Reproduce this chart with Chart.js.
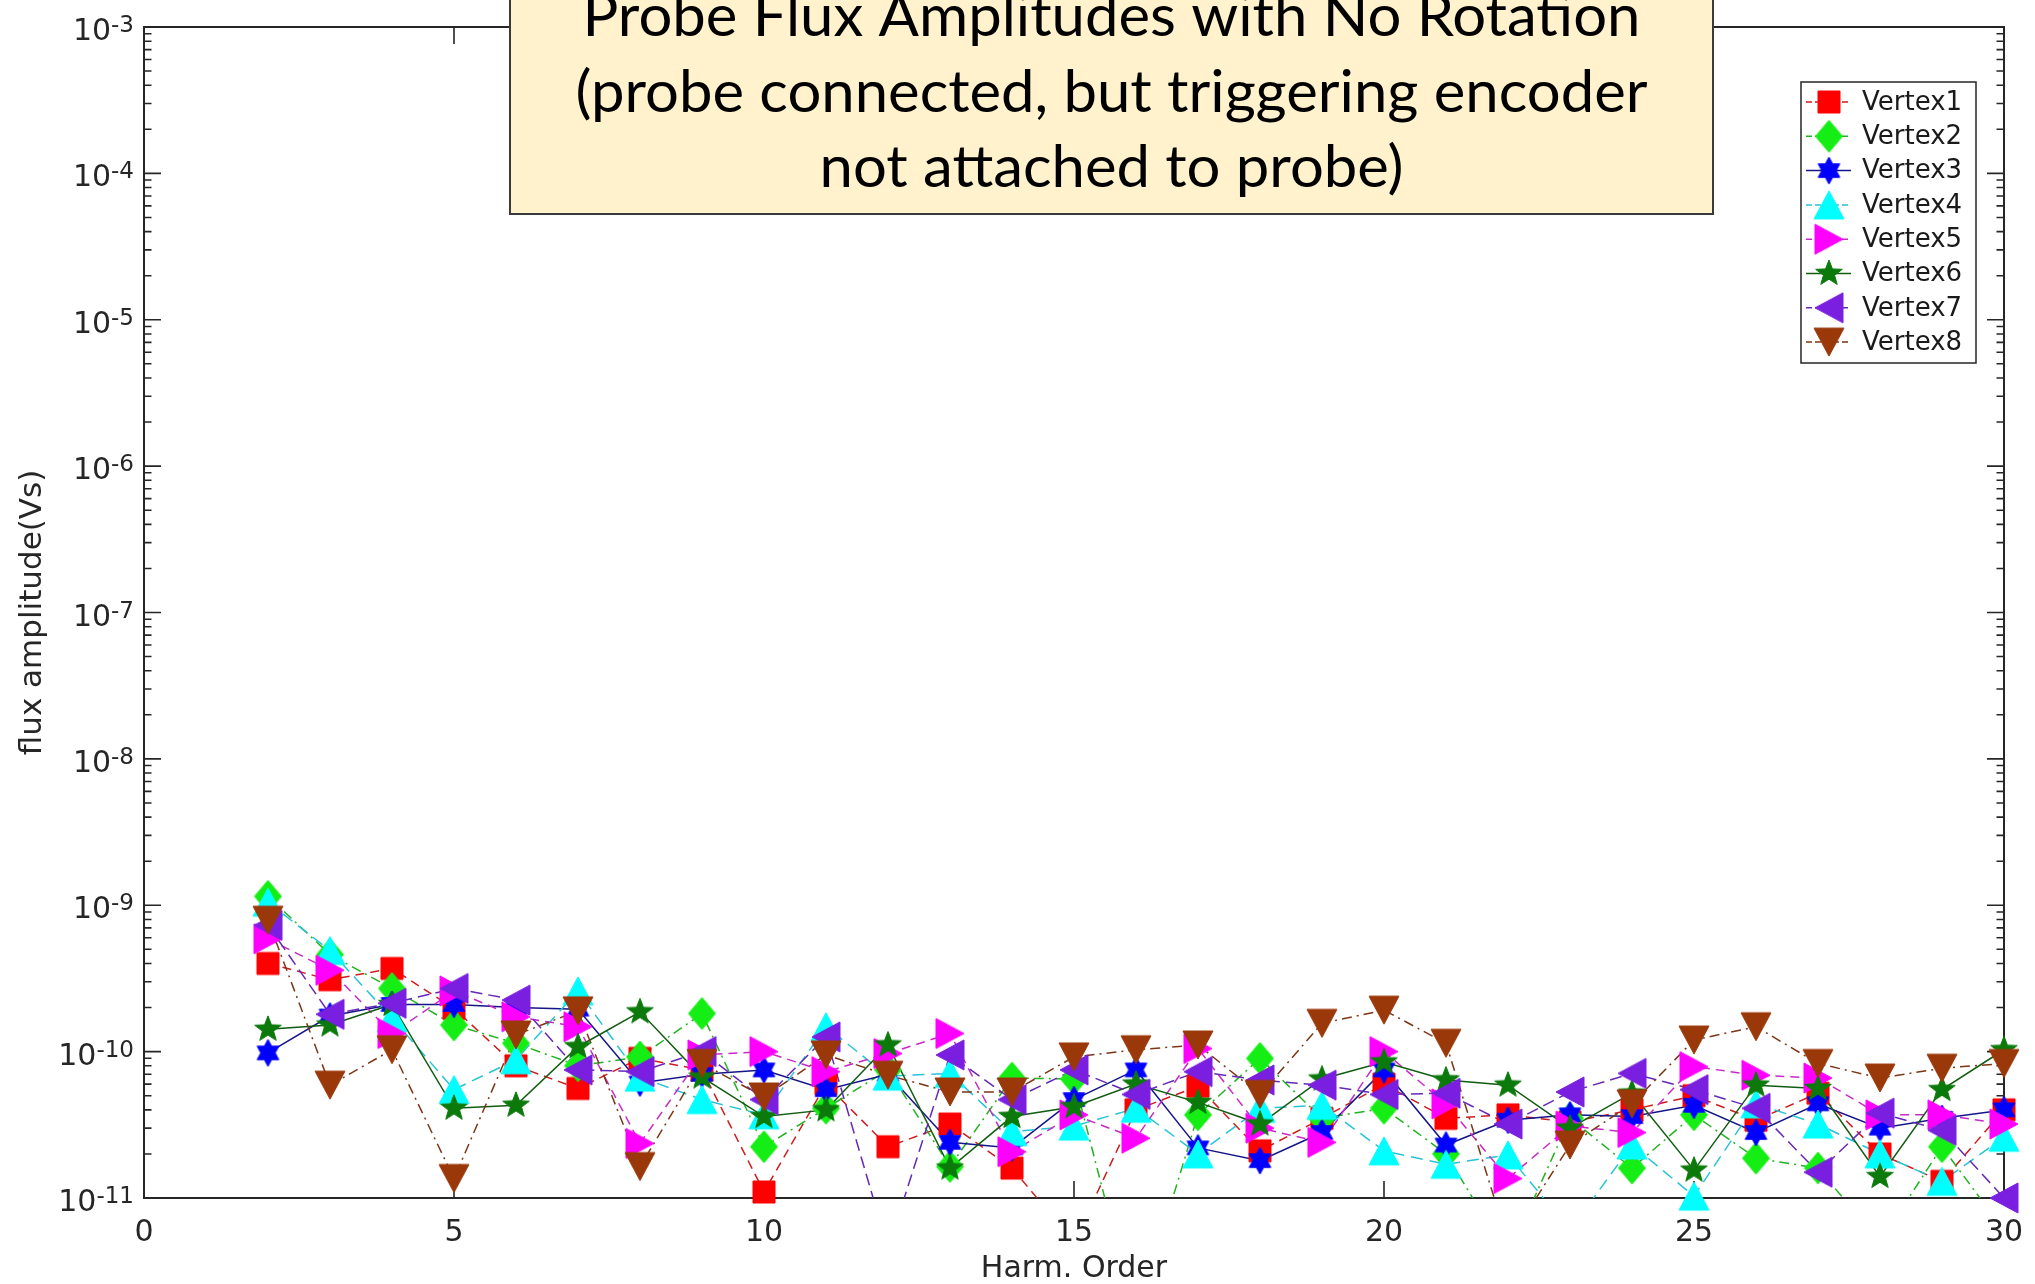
<!DOCTYPE html>
<html>
<head>
<meta charset="utf-8">
<title>Probe Flux Amplitudes with No Rotation</title>
<script src="https://cdn.jsdelivr.net/npm/chart.js@4.4.1/dist/chart.umd.min.js"></script>
<style>
  html, body { margin: 0; padding: 0; background: #ffffff; overflow: hidden; }
  #wrap { position: relative; width: 2035px; height: 1284px; }
</style>
</head>
<body>
<div id="wrap"><canvas id="chart" width="2035" height="1284"></canvas></div>
<script>
// ---- data: flux amplitude (Vs) per harmonic order, one array per probe vertex ----
const harmonics = [2, 3, 4, 5, 6, 7, 8, 9, 10, 11, 12, 13, 14, 15, 16, 17, 18, 19, 20, 21, 22, 23, 24, 25, 26, 27, 28, 29, 30];

const vertex1 = [4.0e-10, 3.1e-10, 3.7e-10, 1.97e-10, 8.0e-11, 5.6e-11, 9.0e-11, 7.5e-11, 1.1e-11, 6.0e-11, 2.24e-11, 3.2e-11, 1.6e-11, 5.0e-12, 4.0e-11, 5.8e-11, 2.1e-11, 3.5e-11, 6.0e-11, 3.5e-11, 3.7e-11, 3.3e-11, 4.0e-11, 5.0e-11, 3.4e-11, 5.2e-11, 2.0e-11, 1.3e-11, 4.0e-11];
const vertex2 = [1.15e-9, 4.6e-10, 2.7e-10, 1.52e-10, 1.14e-10, 8.0e-11, 9.2e-11, 1.82e-10, 2.24e-11, 4.1e-11, 7.5e-11, 1.64e-11, 6.6e-11, 6.5e-11, 1.5e-12, 3.7e-11, 9.0e-11, 3.5e-11, 4.1e-11, 2.0e-11, 4.0e-12, 3.5e-11, 1.6e-11, 3.7e-11, 1.87e-11, 1.6e-11, 5.0e-12, 2.24e-11, 6.0e-12];
const vertex3 = [9.8e-11, 1.75e-10, 2.1e-10, 2.1e-10, 2.0e-10, 1.95e-10, 6.1e-11, 7.0e-11, 7.5e-11, 5.5e-11, 7.0e-11, 2.4e-11, 2.2e-11, 4.7e-11, 7.5e-11, 2.2e-11, 1.8e-11, 2.8e-11, 7.5e-11, 2.3e-11, 3.4e-11, 3.7e-11, 3.6e-11, 4.3e-11, 2.8e-11, 4.4e-11, 3.0e-11, 3.5e-11, 4.0e-11];
const vertex4 = [1.05e-9, 4.9e-10, 1.7e-10, 5.5e-11, 8.8e-11, 2.6e-10, 6.7e-11, 4.7e-11, 3.7e-11, 1.48e-10, 6.8e-11, 7.1e-11, 2.84e-11, 3.1e-11, 4.1e-11, 2.0e-11, 4.1e-11, 4.3e-11, 2.1e-11, 1.7e-11, 1.97e-11, 6.0e-12, 2.3e-11, 1.03e-11, 4.4e-11, 3.2e-11, 2.0e-11, 1.3e-11, 2.6e-11];
const vertex5 = [5.9e-10, 3.6e-10, 1.33e-10, 2.6e-10, 1.73e-10, 1.48e-10, 2.36e-11, 9.5e-11, 1.0e-10, 7.3e-11, 9.7e-11, 1.33e-10, 2.07e-11, 3.7e-11, 2.56e-11, 1.05e-10, 3.0e-11, 2.4e-11, 1.0e-10, 4.4e-11, 1.36e-11, 3.1e-11, 2.8e-11, 7.9e-11, 6.9e-11, 6.6e-11, 3.7e-11, 3.7e-11, 3.2e-11];
const vertex6 = [1.42e-10, 1.52e-10, 2.1e-10, 4.1e-11, 4.3e-11, 1.08e-10, 1.87e-10, 6.7e-11, 3.6e-11, 4.0e-11, 1.11e-10, 1.6e-11, 3.6e-11, 4.2e-11, 6.0e-11, 4.5e-11, 3.2e-11, 6.5e-11, 8.5e-11, 6.4e-11, 5.9e-11, 3.0e-11, 5.2e-11, 1.55e-11, 5.9e-11, 5.6e-11, 1.4e-11, 5.5e-11, 1.03e-10];
const vertex7 = [7.3e-10, 1.8e-10, 2.14e-10, 2.7e-10, 2.25e-10, 7.5e-11, 7.3e-11, 1.0e-10, 4.7e-11, 1.26e-10, 4.5e-12, 9.5e-11, 4.7e-11, 7.5e-11, 5.1e-11, 7.3e-11, 6.4e-11, 5.9e-11, 5.1e-11, 5.2e-11, 3.2e-11, 5.3e-11, 7.1e-11, 5.5e-11, 4.1e-11, 1.5e-11, 3.8e-11, 2.9e-11, 1.0e-11];
const vertex8 = [7.9e-10, 5.9e-11, 1.03e-10, 1.36e-11, 1.3e-10, 1.9e-10, 1.64e-11, 8.3e-11, 4.9e-11, 9.5e-11, 6.9e-11, 5.3e-11, 5.3e-11, 9.2e-11, 1.03e-10, 1.11e-10, 5.1e-11, 1.56e-10, 1.92e-10, 1.14e-10, 5.0e-12, 2.3e-11, 4.4e-11, 1.2e-10, 1.48e-10, 8.3e-11, 6.6e-11, 7.7e-11, 8.3e-11];

const seriesNames = ['Vertex1', 'Vertex2', 'Vertex3', 'Vertex4', 'Vertex5', 'Vertex6', 'Vertex7', 'Vertex8'];
const seriesValues = [vertex1, vertex2, vertex3, vertex4, vertex5, vertex6, vertex7, vertex8];

const yDecades = [-11, -10, -9, -8, -7, -6, -5, -4, -3];
const xTickValues = [0, 5, 10, 15, 20, 25, 30];
const X_MIN = 0, X_MAX = 30;
const Y_MIN = 1e-11, Y_MAX = 1e-3;

const titleLines = [
  'Probe Flux Amplitudes with No Rotation',
  '(probe connected, but triggering encoder',
  'not attached to probe)'
];
const xTitle = 'Harm. Order';
const yTitle = 'flux amplitude(Vs)';

// ---- appearance ----
const styles = [
  { marker: 'square',    fill: '#ff0000', line: '#d01c1c', dash: [9, 6] },
  { marker: 'diamond',   fill: '#14ee14', line: '#1fb41f', dash: [10, 5, 2, 5] },
  { marker: 'hexagram',  fill: '#0000ff', line: '#15158a', dash: [] },
  { marker: 'up',        fill: '#00ffff', line: '#27c4d6', dash: [12, 7] },
  { marker: 'right',     fill: '#ff00ff', line: '#c82ac8', dash: [9, 6] },
  { marker: 'pentagram', fill: '#0b7a0b', line: '#105c10', dash: [] },
  { marker: 'left',      fill: '#7a1fe0', line: '#6528b8', dash: [12, 6] },
  { marker: 'down',      fill: '#9a380a', line: '#7c3616', dash: [10, 5, 2, 5] }
];
const markerSize = {
  square: [22, 22], diamond: [27, 32], hexagram: [25, 27], up: [30, 28],
  right: [28, 30], pentagram: [28, 27], left: [28, 30], down: [30, 28]
};
const AXIS_COLOR = '#262626';
const FONT = '"DejaVu Sans", sans-serif';

function makeMarker(shape, color) {
  const [w, h] = markerSize[shape];
  const pad = 2;
  const cv = document.createElement('canvas');
  cv.width = Math.ceil(w) + pad * 2;
  cv.height = Math.ceil(h) + pad * 2;
  const g = cv.getContext('2d');
  g.translate(cv.width / 2, cv.height / 2);
  g.fillStyle = color;
  g.strokeStyle = color;
  g.lineWidth = 1;
  const hw = w / 2, hh = h / 2;
  g.beginPath();
  const starPath = (n, inner) => {
    for (let k = 0; k < n * 2; k++) {
      const r = (k % 2 === 0) ? 1 : inner;
      const a = -Math.PI / 2 + k * Math.PI / n;
      const px = Math.cos(a) * r * hw, py = Math.sin(a) * r * hh;
      if (k === 0) g.moveTo(px, py); else g.lineTo(px, py);
    }
  };
  switch (shape) {
    case 'square': g.rect(-hw, -hh, w, h); break;
    case 'diamond': g.moveTo(0, -hh); g.lineTo(hw, 0); g.lineTo(0, hh); g.lineTo(-hw, 0); break;
    case 'up': g.moveTo(0, -hh); g.lineTo(hw, hh); g.lineTo(-hw, hh); break;
    case 'down': g.moveTo(-hw, -hh); g.lineTo(hw, -hh); g.lineTo(0, hh); break;
    case 'right': g.moveTo(-hw, -hh); g.lineTo(hw, 0); g.lineTo(-hw, hh); break;
    case 'left': g.moveTo(hw, -hh); g.lineTo(-hw, 0); g.lineTo(hw, hh); break;
    case 'pentagram': starPath(5, 0.42); break;
    case 'hexagram': starPath(6, 0.58); break;
  }
  g.closePath();
  g.fill();
  g.stroke();
  return cv;
}

const markerImages = styles.map(s => makeMarker(s.marker, s.fill));
const toPoints = vals => harmonics.map((h, i) => ({ x: h, y: vals[i] }));

// connecting lines, clipped to the axes box
const lineSets = seriesValues.map((vals, i) => ({
  label: seriesNames[i] + ' (line)',
  data: toPoints(vals),
  showLine: true,
  pointRadius: 0,
  pointHitRadius: 0,
  borderColor: styles[i].line,
  borderWidth: 1.5,
  borderDash: styles[i].dash,
  tension: 0,
  clip: 0,
  order: 100 - i
}));

// markers, drawn unclipped; values below the axis floor are not marked
const pointSets = seriesValues.map((vals, i) => ({
  label: seriesNames[i],
  data: toPoints(vals),
  showLine: false,
  pointStyle: markerImages[i],
  pointRadius: ctx => (ctx.raw ? (ctx.raw.y >= Y_MIN ? 14 : 0) : 14),
  pointBorderWidth: 0,
  backgroundColor: styles[i].fill,
  borderColor: styles[i].fill,
  clip: false,
  order: 20 - i
}));

// axes box, inward ticks and tick labels
const axesFrame = {
  id: 'axesFrame',
  beforeDatasetsDraw(chart) {
    const { ctx, chartArea: a, scales: { x, y } } = chart;
    ctx.save();
    ctx.strokeStyle = AXIS_COLOR;
    ctx.lineWidth = 2;
    ctx.strokeRect(a.left, a.top, a.right - a.left, a.bottom - a.top);

    ctx.lineWidth = 1.6;
    ctx.beginPath();
    const MAJOR = 17, MINOR = 7.5;
    yDecades.forEach(e => {
      const py = y.getPixelForValue(Math.pow(10, e));
      ctx.moveTo(a.left, py); ctx.lineTo(a.left + MAJOR, py);
      ctx.moveTo(a.right, py); ctx.lineTo(a.right - MAJOR, py);
      if (e < yDecades[yDecades.length - 1]) {
        for (let k = 2; k <= 9; k++) {
          const pm = y.getPixelForValue(k * Math.pow(10, e));
          ctx.moveTo(a.left, pm); ctx.lineTo(a.left + MINOR, pm);
          ctx.moveTo(a.right, pm); ctx.lineTo(a.right - MINOR, pm);
        }
      }
    });
    xTickValues.forEach(v => {
      const px = x.getPixelForValue(v);
      ctx.moveTo(px, a.bottom); ctx.lineTo(px, a.bottom - MAJOR);
      ctx.moveTo(px, a.top); ctx.lineTo(px, a.top + MAJOR);
    });
    ctx.stroke();

    // y tick labels: 10 with superscript exponent
    ctx.fillStyle = AXIS_COLOR;
    ctx.textBaseline = 'alphabetic';
    ctx.textAlign = 'left';
    const labelRight = a.left - 10;
    yDecades.forEach(e => {
      const py = y.getPixelForValue(Math.pow(10, e));
      const sup = String(e);
      ctx.font = '23px ' + FONT;
      const supW = ctx.measureText(sup).width;
      ctx.font = '30px ' + FONT;
      const baseW = ctx.measureText('10').width;
      const supX = labelRight - supW;
      ctx.fillText('10', supX - baseW, py + 13);
      ctx.font = '23px ' + FONT;
      ctx.fillText(sup, supX, py + 5);
    });

    // x tick labels
    ctx.font = '30px ' + FONT;
    ctx.textAlign = 'center';
    xTickValues.forEach(v => {
      ctx.fillText(String(v), x.getPixelForValue(v), a.bottom + 43);
    });

    // axis titles
    ctx.fillText(xTitle, (a.left + a.right) / 2, a.bottom + 79);
    ctx.save();
    ctx.font = '31px ' + FONT;
    ctx.translate(41, (a.top + a.bottom) / 2 + 0);
    ctx.rotate(-Math.PI / 2);
    ctx.fillText(yTitle, 0, 0);
    ctx.restore();
    ctx.restore();
  }
};

// legend box and the headline panel
const overlays = {
  id: 'overlays',
  afterDraw(chart) {
    const { ctx } = chart;
    ctx.save();

    // legend
    const lx = 1801, ly = 82, lw = 175, lh = 281;
    ctx.fillStyle = '#ffffff';
    ctx.fillRect(lx, ly, lw, lh);
    ctx.strokeStyle = AXIS_COLOR;
    ctx.lineWidth = 1.5;
    ctx.strokeRect(lx, ly, lw, lh);
    seriesNames.forEach((name, i) => {
      const ry = ly + 20 + i * 34.3;
      ctx.save();
      ctx.strokeStyle = styles[i].line;
      ctx.lineWidth = 1.5;
      ctx.setLineDash(styles[i].dash.length ? [6, 3] : []);
      ctx.beginPath();
      ctx.moveTo(lx + 5, ry);
      ctx.lineTo(lx + 50, ry);
      ctx.stroke();
      ctx.restore();
      const img = markerImages[i];
      ctx.drawImage(img, lx + 28 - img.width / 2, ry - img.height / 2);
      ctx.fillStyle = '#1a1a1a';
      ctx.font = '26px ' + FONT;
      ctx.textAlign = 'left';
      ctx.textBaseline = 'middle';
      ctx.fillText(name, lx + 61, ry + 1);
    });

    // headline panel
    const bx = 510, by = -6, bw = 1203, bh = 220;
    ctx.fillStyle = '#fff2cc';
    ctx.fillRect(bx, by, bw, bh);
    ctx.strokeStyle = '#3a3a3a';
    ctx.lineWidth = 2;
    ctx.strokeRect(bx, by, bw, bh);
    ctx.fillStyle = '#000000';
    ctx.font = '58px Lato, "Open Sans", sans-serif';
    ctx.textAlign = 'center';
    ctx.textBaseline = 'alphabetic';
    const sx = 1072 / ctx.measureText(titleLines[1]).width;
    const baselines = [36, 112, 187];
    titleLines.forEach((t, i) => {
      ctx.save();
      ctx.translate(bx + bw / 2, baselines[i]);
      ctx.scale(sx, 1);
      ctx.fillText(t, 0, 0);
      ctx.restore();
    });
    ctx.restore();
  }
};

new Chart(document.getElementById('chart'), {
  type: 'scatter',
  data: { datasets: [...lineSets, ...pointSets] },
  options: {
    responsive: false,
    animation: false,
    devicePixelRatio: 1,
    layout: { padding: { left: 144, right: 31, top: 27, bottom: 86 } },
    scales: {
      x: { type: 'linear', min: X_MIN, max: X_MAX, display: false },
      y: { type: 'logarithmic', min: Y_MIN, max: Y_MAX, display: false }
    },
    plugins: {
      legend: { display: false },
      tooltip: { enabled: false }
    }
  },
  plugins: [axesFrame, overlays]
});
</script>
</body>
</html>
